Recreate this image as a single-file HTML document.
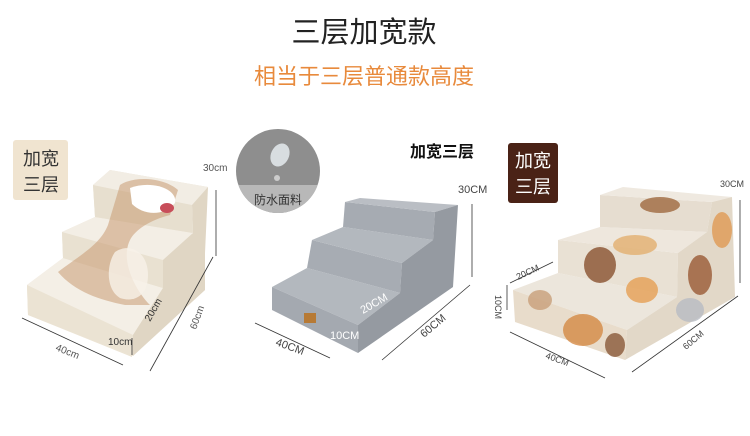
<!DOCTYPE html>
<html><head><meta charset="utf-8"><style>
html,body{margin:0;padding:0;background:#fff}
svg{display:block}
text{font-family:"Liberation Sans","Noto Sans CJK SC",sans-serif}
</style></head><body>
<svg width="750" height="436" viewBox="0 0 750 436" xmlns="http://www.w3.org/2000/svg">
<defs>
<clipPath id="cc"><circle cx="278" cy="171" r="42"/></clipPath>
</defs>
<rect width="750" height="436" fill="#fff"/>
<text x="364" y="42" font-size="29" text-anchor="middle" fill="#222">三层加宽款</text>
<text x="364" y="84" font-size="22" text-anchor="middle" fill="#e88a3c">相当于三层普通款高度</text>

<rect x="13" y="140" width="55" height="60" rx="3" fill="#f0e4d0"/>
<text x="41" y="165" font-size="18" text-anchor="middle" fill="#333">加宽</text>
<text x="41" y="191" font-size="18" text-anchor="middle" fill="#333">三层</text>

<g stroke="none">
<polygon points="133,335 133,355 205,290 205,253 192,260 192,205 208,187 110,170 93,185 95,217 62,232 63,258 27,285 28,315 132,357" fill="#ece4d4"/>
<polygon points="27,285 133,335 133,356 28,315" fill="#ebe3d3"/>
<polygon points="27,285 63,258 163,288 133,335" fill="#f4efe6"/>
<polygon points="63,258 62,232 163,260 163,288" fill="#e9e1d1"/>
<polygon points="62,232 95,217 193,233 163,260" fill="#f3eee5"/>
<polygon points="95,217 93,185 192,205 193,233" fill="#e7dfcf"/>
<polygon points="93,185 110,170 208,187 192,205" fill="#f2ede4"/>
<polygon points="133,335 163,288 163,260 193,233 192,205 208,187 205,253 205,290 133,356" fill="#e0d6c4"/>
<path d="M120,185 C135,175 165,178 178,190 L170,215 C150,220 135,230 130,240 C120,260 135,290 150,305 L125,305 C100,300 75,292 58,272 C80,255 100,245 108,225 Z" fill="#c99a72" opacity="0.55"/>
<path d="M130,188 C150,180 178,188 175,203 C162,218 142,214 132,204 Z" fill="#fff"/>
<ellipse cx="167" cy="208" rx="7" ry="5" fill="#c84e5a"/>
<path d="M115,252 C130,242 148,252 148,275 C148,295 135,303 120,298 C106,290 106,265 115,252 Z" fill="#f7f1e8" opacity="0.8"/>
</g>
<g stroke="#333" stroke-width="0.8" fill="none">
<line x1="216" y1="190" x2="216" y2="256"/>
<line x1="213" y1="257" x2="150" y2="371"/>
<line x1="22" y1="318" x2="123" y2="365"/>
<line x1="132" y1="338" x2="132" y2="355"/>
</g>
<text x="203" y="171" font-size="10" fill="#555">30cm</text>
<text x="108" y="345" font-size="10" fill="#333">10cm</text>
<text x="150" y="322" font-size="10" fill="#333" transform="rotate(-60 150 322)">20cm</text>
<text x="196" y="330" font-size="10" fill="#555" transform="rotate(-70 196 330)">60cm</text>
<text x="55" y="350" font-size="10" fill="#555" transform="rotate(22 55 350)">40cm</text>

<g clip-path="url(#cc)">
<rect x="230" y="125" width="100" height="95" fill="#8e8e8e"/>
<rect x="230" y="185" width="100" height="40" fill="#b8b8b8"/>
</g>
<ellipse cx="280" cy="155" rx="9" ry="12" fill="#d8dde0" transform="rotate(25 280 155)"/>
<circle cx="277" cy="178" r="3" fill="#ccc"/>
<text x="278" y="204" font-size="12" text-anchor="middle" fill="#333">防水面料</text>

<text x="410" y="157" font-size="16" font-weight="bold" fill="#111">加宽三层</text>

<polygon points="272,287 307,268 400,293 358,325" fill="#b3b8be"/>
<polygon points="272,287 358,325 358,353 272,310" fill="#a4a9b0"/>
<polygon points="307,268 312,240 402,263 400,293" fill="#a7acb3"/>
<polygon points="312,240 343,227 433,240 402,263" fill="#b3b8be"/>
<polygon points="343,227 345,202 435,212 433,240" fill="#a6abb2"/>
<polygon points="345,202 360,198 458,205 435,212" fill="#babec4"/>
<polygon points="358,325 400,293 402,263 433,240 435,212 458,205 453,287 358,353" fill="#959aa1"/>
<rect x="304" y="313" width="12" height="10" fill="#b77a35"/>
<g stroke="#333" stroke-width="0.8">
<line x1="472" y1="204" x2="472" y2="277"/>
<line x1="470" y1="285" x2="382" y2="360"/>
<line x1="255" y1="323" x2="330" y2="358"/>
</g>
<text x="458" y="193" font-size="11" fill="#444">30CM</text>
<text x="330" y="339" font-size="11" fill="#fff">10CM</text>
<text x="363" y="314" font-size="11" fill="#fff" transform="rotate(-30 363 314)">20CM</text>
<text x="424" y="338" font-size="11" fill="#444" transform="rotate(-40 424 338)">60CM</text>
<text x="275" y="345" font-size="11" fill="#444" transform="rotate(20 275 345)">40CM</text>

<rect x="508" y="143" width="50" height="60" rx="3" fill="#4a2216"/>
<text x="533" y="167" font-size="18" text-anchor="middle" fill="#fff">加宽</text>
<text x="533" y="193" font-size="18" text-anchor="middle" fill="#fff">三层</text>

<polygon points="513,290 558,273 677,297 627,330" fill="#ece6dc"/>
<polygon points="513,290 627,330 625,360 515,322" fill="#e8dccb"/>
<polygon points="558,273 558,240 678,253 677,297" fill="#e9e1d4"/>
<polygon points="558,240 600,227 707,232 678,253" fill="#eee7dd"/>
<polygon points="600,227 600,195 712,202 707,232" fill="#e6ddd0"/>
<polygon points="600,195 623,187 732,197 712,202" fill="#efe9e0"/>
<polygon points="627,330 677,297 678,253 707,232 712,202 732,197 735,297 625,360" fill="#e2d8c8"/>
<g opacity="0.8">
<ellipse cx="600" cy="265" rx="16" ry="18" fill="#8a5230"/>
<ellipse cx="642" cy="290" rx="16" ry="13" fill="#e6a054"/>
<ellipse cx="583" cy="330" rx="20" ry="16" fill="#d58a45"/>
<ellipse cx="635" cy="245" rx="22" ry="10" fill="#e3b070"/>
<ellipse cx="700" cy="275" rx="12" ry="20" fill="#9a5a35"/>
<ellipse cx="722" cy="230" rx="10" ry="18" fill="#e09a55"/>
<ellipse cx="660" cy="205" rx="20" ry="8" fill="#a06a40"/>
<ellipse cx="540" cy="300" rx="12" ry="10" fill="#c9a07a"/>
<ellipse cx="615" cy="345" rx="10" ry="12" fill="#8a5a3a"/>
<ellipse cx="690" cy="310" rx="14" ry="12" fill="#b8bcc4"/>
</g>
<g stroke="#333" stroke-width="0.8">
<line x1="740" y1="200" x2="740" y2="283"/>
<line x1="738" y1="296" x2="632" y2="372"/>
<line x1="510" y1="332" x2="605" y2="378"/>
<line x1="507" y1="285" x2="507" y2="310"/>
<line x1="510" y1="283" x2="553" y2="262"/>
</g>
<text x="720" y="187" font-size="9" fill="#444">30CM</text>
<text x="518" y="280" font-size="9" fill="#444" transform="rotate(-25 518 280)">20CM</text>
<text x="495" y="295" font-size="9" fill="#444" transform="rotate(90 495 295)">10CM</text>
<text x="545" y="358" font-size="9" fill="#444" transform="rotate(20 545 358)">40CM</text>
<text x="686" y="350" font-size="9" fill="#444" transform="rotate(-40 686 350)">60CM</text>
</svg>
</body></html>
